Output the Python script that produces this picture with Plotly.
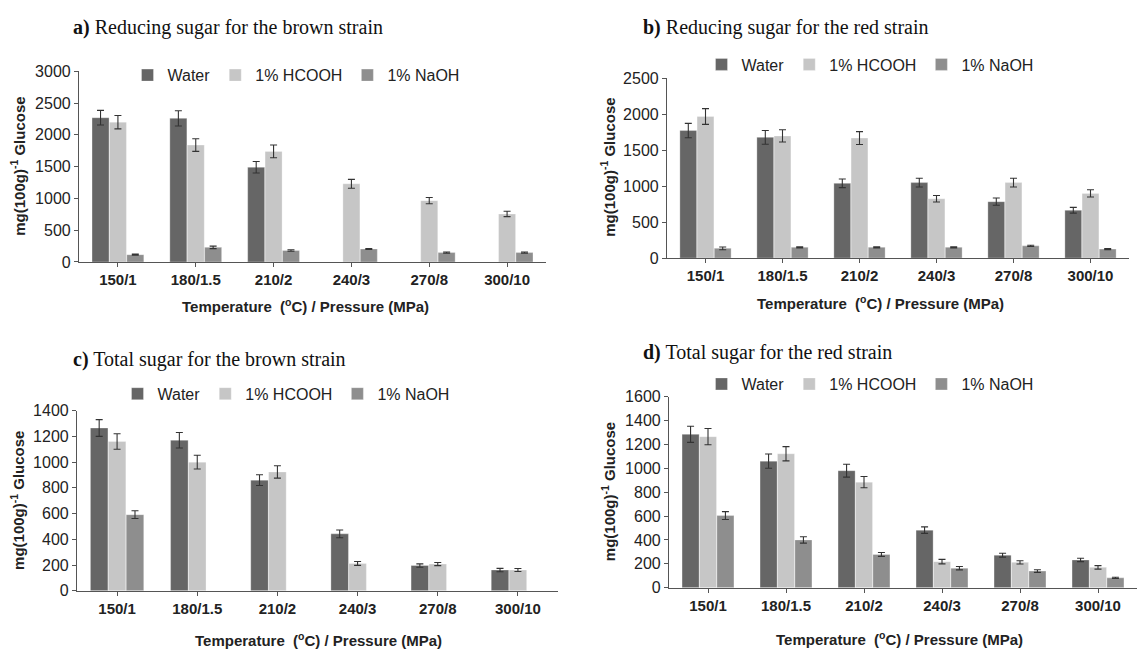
import plotly.graph_objects as go

categories = ["150/1", "180/1.5", "210/2", "240/3", "270/8", "300/10"]
series_names = ["Water", "1% HCOOH", "1% NaOH"]

# a) Reducing sugar, brown strain
a_water = [2270, 2260, 1490, None, None, None]
a_water_err = [115, 120, 90, None, None, None]
a_hcooh = [2200, 1840, 1740, 1230, 965, 755]
a_hcooh_err = [105, 100, 100, 70, 50, 42]
a_naoh = [115, 230, 180, 205, 148, 148]
a_naoh_err = [8, 20, 12, 8, 10, 10]

# b) Reducing sugar, red strain
b_water = [1775, 1680, 1040, 1050, 785, 665]
b_water_err = [100, 95, 60, 60, 50, 40]
b_hcooh = [1970, 1700, 1670, 825, 1050, 900]
b_hcooh_err = [110, 85, 90, 45, 60, 50]
b_naoh = [135, 150, 150, 150, 170, 125]
b_naoh_err = [20, 8, 8, 8, 8, 8]

# c) Total sugar, brown strain
c_water = [1265, 1170, 860, 443, 197, 162]
c_water_err = [65, 60, 42, 30, 13, 13]
c_hcooh = [1160, 1000, 924, 213, 208, 162]
c_hcooh_err = [60, 53, 48, 15, 12, 12]
c_naoh = [592, None, None, None, None, None]
c_naoh_err = [30, None, None, None, None, None]

# d) Total sugar, red strain
d_water = [1285, 1060, 980, 482, 272, 232]
d_water_err = [68, 60, 54, 27, 16, 14]
d_hcooh = [1265, 1122, 884, 218, 212, 170]
d_hcooh_err = [68, 60, 47, 19, 14, 15]
d_naoh = [604, 400, 278, 163, 139, 82]
d_naoh_err = [33, 27, 16, 14, 11, 5]

colors = ["#666666", "#c6c6c6", "#8e8e8e"]

W, H = 1137, 659


def px(x):
    return x / W


def py(y):
    return 1 - y / H


panels = [
    dict(vals=(a_water, a_hcooh, a_naoh), errs=(a_water_err, a_hcooh_err, a_naoh_err),
         xdom=(79, 546), ydom=(65, 260.7), ymax=3000, dtick=500,
         label="a)", title="Reducing sugar for the brown strain", tpos=(71, 20),
         leg=(296, 69), xt=(305, 305), yt=(18, 163)),
    dict(vals=(b_water, b_hcooh, b_naoh), errs=(b_water_err, b_hcooh_err, b_naoh_err),
         xdom=(667, 1129), ydom=(72.3, 256.7), ymax=2500, dtick=500,
         label="b)", title="Reducing sugar for the red strain", tpos=(641, 20),
         leg=(870, 58), xt=(880, 302), yt=(608, 164)),
    dict(vals=(c_water, c_hcooh, c_naoh), errs=(c_water_err, c_hcooh_err, c_naoh_err),
         xdom=(77, 558), ydom=(413.3, 598.3), ymax=1400, dtick=200,
         label="c)", title="Total sugar for the brown strain", tpos=(71, 361),
         leg=(286, 396), xt=(318, 648), yt=(18, 506)),
    dict(vals=(d_water, d_hcooh, d_naoh), errs=(d_water_err, d_hcooh_err, d_naoh_err),
         xdom=(669, 1137), ydom=(399, 595), ymax=1600, dtick=200,
         label="d)", title="Total sugar for the red strain", tpos=(641, 354),
         leg=(870, 386), xt=(900, 647), yt=(608, 497)),
]

fig = go.Figure()
sans = "Liberation Sans, Arial, sans-serif"
serif = "Liberation Serif, Times New Roman, serif"
annotations = []
layout = dict(width=W, height=H, margin=dict(l=0, r=0, t=0, b=0),
              paper_bgcolor="white", plot_bgcolor="white",
              barmode="group", bargap=0.33, bargroupgap=0.02,
              font=dict(family=sans, color="#222222"))

for i, p in enumerate(panels):
    n = "" if i == 0 else str(i + 1)
    legname = "legend" + n
    for s in range(3):
        fig.add_trace(go.Bar(
            x=categories, y=p["vals"][s], name=series_names[s],
            marker=dict(color=colors[s], line=dict(color="rgba(255,255,255,0.6)", width=0.5)),
            error_y=dict(type="data", array=p["errs"][s], color="#333333", thickness=1.1, width=3.5),
            xaxis="x" + n, yaxis="y" + n, legend=legname,
        ))
    layout["xaxis" + n] = dict(
        domain=[px(p["xdom"][0]), px(p["xdom"][1])], anchor="y" + n,
        type="category", showline=True, linecolor="#555555", linewidth=1.2,
        ticks="outside", ticklen=4, tickcolor="#555555", showgrid=False,
        tickfont=dict(family=sans, size=15, color="#222222", weight="bold"),
    )
    layout["yaxis" + n] = dict(
        domain=[py(p["ydom"][1]), py(p["ydom"][0])], anchor="x" + n,
        range=[0, p["ymax"]], dtick=p["dtick"], showline=True, linecolor="#555555",
        linewidth=1.2, ticks="outside", ticklen=4, tickcolor="#555555",
        showgrid=False, zeroline=False,
        tickfont=dict(family=sans, size=16, color="#222222"),
    )
    layout[legname] = dict(
        orientation="h", x=px(p["leg"][0]), y=py(p["leg"][1]),
        xanchor="center", yanchor="middle", bgcolor="rgba(0,0,0,0)",
        font=dict(family=sans, size=16, color="#222222"),
        itemwidth=30, tracegroupgap=0, itemclick=False,
    )
    annotations.append(dict(
        text="<b>" + p["label"] + "</b> " + p["title"], xref="paper", yref="paper",
        x=px(p["tpos"][0]), y=py(p["tpos"][1]), xanchor="left", yanchor="middle",
        showarrow=False, font=dict(family=serif, size=20, color="#111111")))
    annotations.append(dict(
        text="<b>Temperature  (<sup>o</sup>C) / Pressure (MPa)</b>", xref="paper", yref="paper",
        x=px(p["xt"][0]), y=py(p["xt"][1]), xanchor="center", yanchor="middle",
        showarrow=False, font=dict(family=sans, size=15, color="#222222")))
    annotations.append(dict(
        text="<b>mg(100g)<sup>-1</sup> Glucose</b>", xref="paper", yref="paper",
        x=px(p["yt"][0]), y=py(p["yt"][1]), xanchor="center", yanchor="middle",
        textangle=-90, showarrow=False, font=dict(family=sans, size=15, color="#222222")))

layout["annotations"] = annotations
fig.update_layout(**layout)
fig.write_html("out.html")
